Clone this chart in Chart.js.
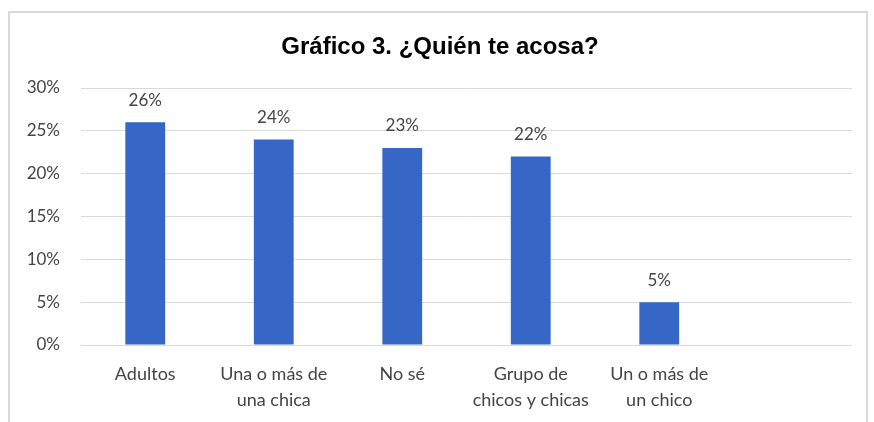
<!DOCTYPE html>
<html>
<head>
<meta charset="utf-8">
<script src="https://cdn.jsdelivr.net/npm/chart.js@4/dist/chart.umd.min.js"></script>
<style>
  html, body { margin: 0; padding: 0; background: #ffffff; }
  #wrap { width: 874px; height: 422px; position: relative; }
</style>
</head>
<body>
<div id="wrap"><canvas id="c"></canvas></div>
<script>
// Responses to "¿Quién te acosa?" (percent of students)
const categories = [
  'Adultos',
  ['Una o más de', 'una chica'],
  'No sé',
  ['Grupo de', 'chicos y chicas'],
  ['Un o más de', 'un chico'],
  ''
];
const percentages = [26, 24, 23, 22, 5, null];
const yTicks = [0, 5, 10, 15, 20, 25, 30];

const chartTitle = 'Gráfico 3. ¿Quién te acosa?';
const textFont = 'Lato, "Open Sans", sans-serif';
const textColor = '#444444';

// Thin light frame around the chart and the bold heading at the top
const framePlugin = {
  id: 'frame',
  beforeDraw(chart) {
    const ctx = chart.ctx;
    ctx.save();
    ctx.strokeStyle = '#d9d9d9';
    ctx.lineWidth = 2;
    ctx.beginPath();
    ctx.moveTo(9, 422);
    ctx.lineTo(9, 12);
    ctx.lineTo(867, 12);
    ctx.lineTo(867, 422);
    ctx.stroke();

    ctx.fillStyle = '#000000';
    ctx.font = 'bold 24px "Liberation Sans", Arial, sans-serif';
    ctx.textAlign = 'center';
    ctx.textBaseline = 'middle';
    ctx.fillText(chartTitle, 440, 47);
    ctx.restore();
  }
};

// Value labels above each bar
const valueLabels = {
  id: 'valueLabels',
  afterDatasetsDraw(chart) {
    const ctx = chart.ctx;
    const meta = chart.getDatasetMeta(0);
    ctx.save();
    ctx.font = '17px ' + textFont;
    ctx.fillStyle = textColor;
    ctx.textAlign = 'center';
    ctx.textBaseline = 'middle';
    meta.data.forEach((bar, i) => {
      const v = percentages[i];
      if (v === null || v === undefined) return;
      ctx.fillText(v + '%', bar.x, bar.y - 22);
    });
    ctx.restore();
  }
};

new Chart(document.getElementById('c'), {
  type: 'bar',
  data: {
    labels: categories,
    datasets: [{
      data: percentages,
      backgroundColor: '#3767c6',
      borderWidth: 0,
      categoryPercentage: 1,
      barPercentage: 0.31
    }]
  },
  options: {
    responsive: true,
    maintainAspectRatio: false,
    animation: false,
    layout: { padding: { left: 0, right: 22, top: 88, bottom: 0 } },
    plugins: {
      legend: { display: false },
      tooltip: { enabled: false },
      title: { display: false }
    },
    scales: {
      x: {
        grid: { display: false, drawTicks: false },
        border: { display: false },
        ticks: {
          color: textColor,
          font: { family: textFont, size: 18, lineHeight: 1.45 },
          padding: 16,
          maxRotation: 0,
          autoSkip: false
        },
        afterFit(scale) { scale.height = 77; }
      },
      y: {
        min: 0,
        max: 30,
        afterBuildTicks(scale) { scale.ticks = yTicks.map(v => ({ value: v })); },
        grid: { color: '#d9d9d9', lineWidth: 1, drawTicks: false },
        border: { display: false },
        ticks: {
          color: textColor,
          font: { family: textFont, size: 17 },
          padding: 21,
          callback: v => v + '%'
        },
        afterFit(scale) { scale.width = 81; }
      }
    }
  },
  plugins: [framePlugin, valueLabels]
});
</script>
</body>
</html>
